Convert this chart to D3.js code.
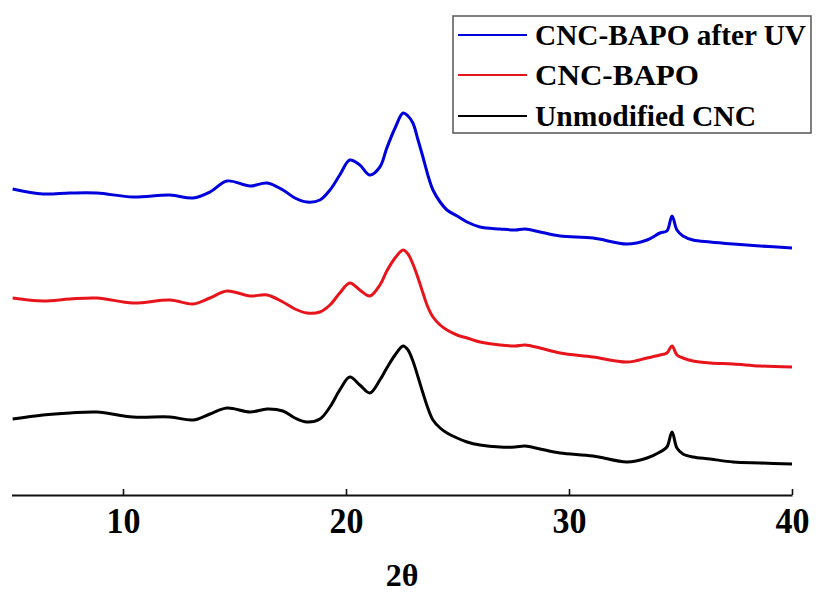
<!DOCTYPE html>
<html>
<head>
<meta charset="utf-8">
<script src="https://cdn.jsdelivr.net/npm/d3@7"></script>
<style>
  html, body { margin: 0; padding: 0; background: #fff; }
  svg { display: block; }
</style>
</head>
<body>
<svg id="chart" width="816" height="593"></svg>
<script>
// 2θ sample positions (degrees)
const twoTheta = [5.05, 6.41, 7.62, 8.83, 10.45, 12.11, 13.14, 13.90, 14.66, 15.70,
  16.46, 17.17, 17.71, 18.25, 18.83, 19.28, 19.72, 20.17, 20.62, 21.07,
  21.52, 21.83, 22.20, 22.56, 22.78, 23.00, 23.23, 23.45, 23.67, 23.90,
  24.22, 24.53, 24.98, 25.43, 26.01, 26.91, 27.58, 28.03, 28.70, 29.60,
  31.08, 32.60, 33.50, 34.08, 34.39, 34.62, 34.84, 35.11, 35.56, 36.33,
  37.36, 38.57, 40.00];

// Intensities (a.u., stacked offsets included)
const afterUV = [306, 301, 302, 302, 298, 300, 297, 303, 314, 309,
  312, 305, 297, 293, 295, 305, 320, 335, 330, 320,
  328, 347, 367, 382, 379, 372, 355, 338, 320, 305,
  293, 285, 279, 273, 268, 266, 265, 266, 263, 259,
  257, 251, 255, 262, 264, 279, 265, 259, 255, 253,
  251, 249, 247];
const cncBapo = [197, 194, 196, 197, 192, 195, 191, 197, 204, 199,
  200, 193, 186, 182, 183, 190, 202, 212, 205, 199,
  210, 224, 237, 245, 241, 231, 217, 202, 188, 178,
  170, 165, 160, 157, 153, 150, 149, 150, 147, 142,
  138, 133, 137, 140, 142, 149, 140, 137, 134, 132,
  131, 129, 128];
const unmodified = [76, 80, 82, 83, 78, 78, 75, 81, 87, 83,
  86, 84, 77, 73, 76, 88, 105, 118, 110, 102,
  115, 127, 140, 149, 145, 134, 118, 102, 87, 75,
  67, 62, 57, 53, 50, 48, 48, 49, 46, 42,
  39, 33, 37, 43, 48, 63, 47, 41, 38, 36,
  33, 32, 31];

const seriesNames = ["CNC-BAPO after UV", "CNC-BAPO", "Unmodified CNC"];
const seriesColors = ["#0000dd", "#e8141b", "#000000"];
const seriesValues = [afterUV, cncBapo, unmodified];
const xTicks = [10, 20, 30, 40];
const xLabel = "2θ";

const serif = "'Liberation Serif', 'Times New Roman', serif";
const svg = d3.select("#chart");
const x = d3.scaleLinear().domain([5, 40]).range([11.5, 792]);
const y = d3.scaleLinear().domain([0, 480]).range([495, 15]);

const line = d3.line()
  .x((d, i) => x(twoTheta[i]))
  .y(d => y(d))
  .curve(d3.curveCatmullRom.alpha(0.5));

seriesValues.forEach((vals, k) => {
  svg.append("path")
    .datum(vals)
    .attr("fill", "none")
    .attr("stroke", seriesColors[k])
    .attr("stroke-width", 3)
    .attr("stroke-linejoin", "round")
    .attr("d", line);
});

// X axis
const axis = d3.axisBottom(x).tickValues(xTicks).tickSizeInner(-6).tickSizeOuter(0).tickFormat(d3.format("d"));
const gx = svg.append("g").attr("transform", `translate(0,${y(0)})`).call(axis);
gx.select(".domain").attr("stroke", "#111").attr("stroke-width", 2);
gx.selectAll(".tick line").attr("stroke", "#111").attr("stroke-width", 1.6);
gx.selectAll(".tick text")
  .attr("y", 38).attr("dy", 0)
  .attr("fill", "#000")
  .attr("textLength", 34)
  .attr("lengthAdjust", "spacingAndGlyphs")
  .style("font-family", serif)
  .style("font-weight", "bold")
  .style("font-size", "36px");

svg.append("text")
  .attr("x", 402).attr("y", 586)
  .attr("text-anchor", "middle")
  .style("font-family", serif)
  .style("font-weight", "bold")
  .style("font-size", "32px")
  .text(xLabel);

// Legend
const lg = svg.append("g");
lg.append("rect")
  .attr("x", 453).attr("y", 16).attr("width", 358).attr("height", 117)
  .attr("fill", "#fff").attr("stroke", "#555").attr("stroke-width", 1.5);
const legendY = [35, 75, 116];
const legendLen = [271, 164, 221];
seriesNames.forEach((name, k) => {
  lg.append("line")
    .attr("x1", 458).attr("x2", 527)
    .attr("y1", legendY[k]).attr("y2", legendY[k])
    .attr("stroke", seriesColors[k]).attr("stroke-width", 2.2);
  lg.append("text")
    .attr("x", 535).attr("y", legendY[k] + 10)
    .attr("textLength", legendLen[k])
    .attr("lengthAdjust", "spacingAndGlyphs")
    .style("font-family", serif)
    .style("font-weight", "bold")
    .style("font-size", "30px")
    .text(name);
});
</script>
</body>
</html>
